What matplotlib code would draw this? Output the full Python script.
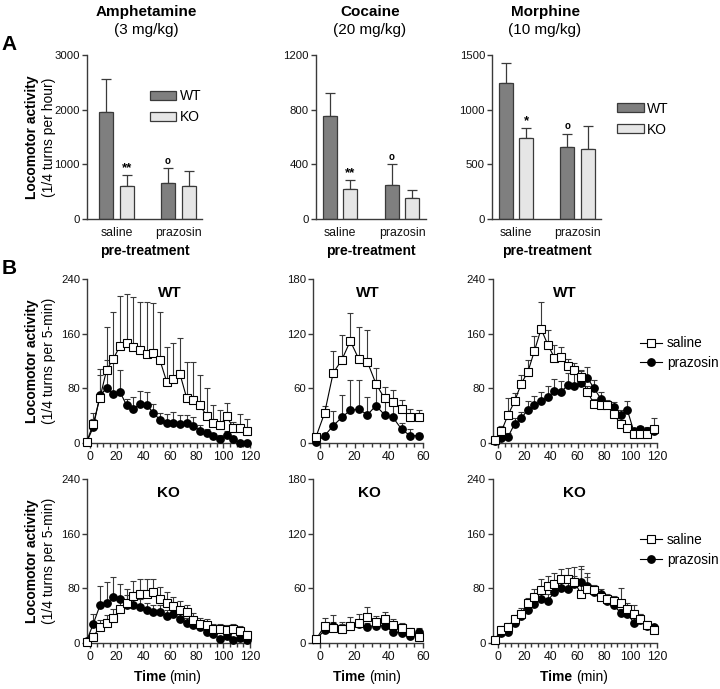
import numpy as np
import matplotlib
matplotlib.use('Agg')
import matplotlib.pyplot as plt
from matplotlib.patches import Patch
from matplotlib.lines import Line2D
from matplotlib.ticker import MultipleLocator

plt.rcParams['font.family'] = ['Liberation Sans', 'DejaVu Sans']

# ---------------- data ----------------
drugs = ["Amphetamine", "Cocaine", "Morphine"]
doses = ["(3 mg/kg)", "(20 mg/kg)", "(10 mg/kg)"]
pretreat = ["saline", "prazosin"]

amph_wt_mean = [1960, 655]
amph_wt_sem = [600, 270]
amph_ko_mean = [610, 605]
amph_ko_sem = [190, 265]

coc_wt_mean = [750, 247]
coc_wt_sem = [170, 153]
coc_ko_mean = [219, 154]
coc_ko_sem = [66, 58]

mor_wt_mean = [1244, 658]
mor_wt_sem = [180, 122]
mor_ko_mean = [738, 643]
mor_ko_sem = [91, 210]

time_120 = [-2.5, 2.5, 7.5, 12.5, 17.5, 22.5, 27.5, 32.5, 37.5, 42.5, 47.5, 52.5,
            57.5, 62.5, 67.5, 72.5, 77.5, 82.5, 87.5, 92.5, 97.5, 102.5, 107.5,
            112.5, 117.5]
time_60 = [-2.5, 2.5, 7.5, 12.5, 17.5, 22.5, 27.5, 32.5, 37.5, 42.5, 47.5, 52.5, 57.5]

# Amphetamine WT
amph_wt_sal = [1, 28, 66, 107, 123, 142, 147, 141, 136, 130, 132, 121, 90, 93, 101,
               66, 63, 55, 40, 29, 26, 39, 22, 22, 18]
amph_wt_sal_sem = [0, 16, 42, 63, 68, 73, 71, 72, 71, 77, 73, 70, 50, 54, 52, 53,
                   56, 45, 41, 26, 23, 20, 9, 21, 17]
amph_wt_pz = [1, 23, 70, 80, 71, 75, 55, 50, 57, 56, 44, 34, 29, 29, 28, 29, 25, 18,
              14, 10, 6, 11, 6, 0, 0]
amph_wt_pz_sem = [0, 12, 30, 42, 48, 32, 10, 18, 19, 19, 13, 10, 14, 16, 13, 12, 13,
                  8, 6, 5, 5, 6, 4, 3, 2]
# Amphetamine KO
amph_ko_sal = [2, 9, 24, 29, 36, 50, 59, 69, 71, 72, 74, 64, 58, 54, 49, 45, 34, 28,
               27, 20, 20, 19, 21, 18, 11]
amph_ko_sal_sem = [1, 6, 10, 12, 14, 18, 20, 22, 22, 22, 20, 18, 16, 14, 12, 10, 10,
                   8, 8, 8, 8, 8, 7, 7, 6]
amph_ko_pz = [3, 28, 55, 58, 67, 64, 56, 55, 53, 48, 45, 45, 39, 42, 35, 30, 26, 23,
              16, 13, 6, 10, 5, 7, 4]
amph_ko_pz_sem = [1, 15, 29, 31, 30, 22, 14, 12, 12, 10, 10, 10, 9, 9, 8, 7, 7, 6, 5,
                  4, 3, 3, 3, 3, 2]
# Cocaine WT
coc_wt_sal = [7, 33, 77, 91, 112, 92, 89, 65, 49, 45, 37, 28, 28]
coc_wt_sal_sem = [1, 8, 24, 28, 31, 35, 35, 17, 13, 13, 10, 9, 8]
coc_wt_pz = [1, 8, 19, 28, 36, 37, 31, 41, 31, 28, 15, 8, 8]
coc_wt_pz_sem = [0, 3, 16, 25, 33, 32, 20, 28, 20, 16, 7, 7, 3]
# Cocaine KO
coc_ko_sal = [4, 19, 17, 15, 19, 22, 29, 23, 26, 20, 16, 12, 7]
coc_ko_sal_sem = [1, 8, 6, 8, 9, 10, 10, 7, 8, 6, 6, 5, 4]
coc_ko_pz = [4, 14, 19, 15, 19, 21, 18, 19, 19, 12, 11, 8, 12]
coc_ko_pz_sem = [1, 5, 12, 6, 4, 4, 4, 5, 4, 6, 3, 3, 4]
# Morphine WT
mor_wt_sal = [5, 17, 41, 61, 87, 104, 135, 167, 144, 125, 126, 113, 107, 97, 75, 57,
              56, 56, 42, 28, 22, 13, 13, 13, 21]
mor_wt_sal_sem = [1, 8, 25, 12, 12, 18, 21, 39, 21, 18, 15, 10, 10, 10, 8, 7, 6, 6,
                  5, 5, 4, 4, 4, 4, 15]
mor_wt_pz = [3, 8, 9, 28, 36, 49, 55, 61, 67, 76, 74, 85, 84, 88, 95, 80, 65, 55,
             52, 41, 49, 17, 20, 18, 18]
mor_wt_pz_sem = [1, 4, 6, 8, 10, 12, 14, 14, 16, 17, 17, 18, 20, 18, 16, 12, 10, 8,
                 8, 8, 12, 5, 5, 5, 5]
# Morphine KO
mor_ko_sal = [5, 19, 24, 35, 43, 58, 67, 77, 83, 87, 93, 93, 90, 72, 79, 77, 67, 64,
              61, 59, 50, 43, 35, 26, 19]
mor_ko_sal_sem = [1, 6, 6, 6, 8, 8, 12, 16, 15, 15, 15, 17, 21, 37, 23, 8, 8, 8, 8,
                  22, 8, 13, 8, 6, 5]
mor_ko_pz = [5, 15, 16, 30, 40, 48, 57, 65, 62, 74, 80, 79, 86, 89, 84, 74, 71, 61,
             55, 44, 43, 30, 34, 25, 23]
mor_ko_pz_sem = [1, 4, 4, 5, 6, 7, 8, 10, 10, 10, 10, 10, 12, 23, 12, 10, 8, 8, 8, 6,
                 6, 6, 8, 6, 4]

# ---------------- layout ----------------
W, H = 720, 689
fig = plt.figure(figsize=(7.2, 6.89), dpi=100)
SP = '#3a3a3a'
DARK = '#7f7f7f'
LIGHT = '#e6e6e6'
TICK_FS = 8.2


def add_ax(x0, y0, x1, y1):
    return fig.add_axes([x0 / W, 1 - y1 / H, (x1 - x0) / W, (y1 - y0) / H])


def ftext(x, y, s, **kw):
    fig.text(x / W, 1 - y / H, s, **kw)


def style(ax):
    for s in ['top', 'right']:
        ax.spines[s].set_visible(False)
    for s in ['left', 'bottom']:
        ax.spines[s].set_color(SP)
        ax.spines[s].set_linewidth(1.0)
    ax.tick_params(colors=SP, labelcolor='#111111', labelsize=TICK_FS, length=3.5,
                   width=1.0, pad=1.5)


def bar_panel(ax, wt_m, wt_s, ko_m, ko_s, ymax, ystep, xlim, ko_mark):
    x = np.arange(len(pretreat))
    off, w = 0.169, 0.226
    z = np.zeros(len(pretreat))
    ax.errorbar(x - off, wt_m, yerr=[z, wt_s], fmt='none', ecolor=SP,
                elinewidth=0.9, capsize=3.5, capthick=0.9, zorder=1)
    ax.errorbar(x + off, ko_m, yerr=[z, ko_s], fmt='none', ecolor=SP,
                elinewidth=0.9, capsize=3.5, capthick=0.9, zorder=1)
    ax.bar(x - off, wt_m, w, color=DARK, edgecolor=SP, linewidth=0.9, zorder=2)
    ax.bar(x + off, ko_m, w, color=LIGHT, edgecolor=SP, linewidth=0.9, zorder=2)
    ax.set_ylim(0, ymax)
    ax.set_xlim(*xlim)
    ax.yaxis.set_major_locator(MultipleLocator(ystep))
    style(ax)
    ax.set_xticks(x)
    ax.set_xticklabels(pretreat, fontsize=8.8)
    ax.tick_params(axis='x', length=0, pad=6)
    ax.set_xlabel('pre-treatment', fontsize=10, fontweight='bold', labelpad=3)
    # significance marks
    ax.annotate(ko_mark, (x[0] + off, ko_m[0] + ko_s[0]), xytext=(0, 0.5),
                textcoords='offset points', ha='center', va='bottom',
                fontsize=9.5, fontweight='bold')
    ax.annotate('o', (x[1] - off, wt_m[1] + wt_s[1]), xytext=(0, 2),
                textcoords='offset points', ha='center', va='bottom',
                fontsize=7, fontweight='bold')


def line_panel(ax, t, sal, sal_s, pz, pz_s, ymax, ystep, xlim, label):
    z = np.zeros(len(t))
    ax.errorbar(t, sal, yerr=[z, sal_s], fmt='none', ecolor=SP, elinewidth=0.8,
                capsize=2.2, capthick=0.8, zorder=2, clip_on=False)
    ax.errorbar(t, pz, yerr=[z, pz_s], fmt='none', ecolor=SP, elinewidth=0.8,
                capsize=2.2, capthick=0.8, zorder=2, clip_on=False)
    ax.plot(t, pz, '-o', color='black', mfc='black', mec='black', ms=5.3, lw=0.8,
            zorder=3, clip_on=False)
    ax.plot(t, sal, '-s', color='black', mfc='white', mec='black', ms=5.3, mew=0.8,
            lw=0.8, zorder=4, clip_on=False)
    ax.set_ylim(0, ymax)
    ax.set_xlim(*xlim)
    ax.yaxis.set_major_locator(MultipleLocator(ystep))
    ax.xaxis.set_major_locator(MultipleLocator(20))
    ax.xaxis.set_minor_locator(MultipleLocator(5))
    style(ax)
    ax.tick_params(axis='x', which='minor', length=3, width=1.0, colors=SP)
    ax.tick_params(axis='x', which='major', pad=2.5, labelsize=8.8)


# ---------- row A ----------
ax_a1 = add_ax(87, 55, 202, 219)
bar_panel(ax_a1, amph_wt_mean, amph_wt_sem, amph_ko_mean, amph_ko_sem, 3000, 1000,
          (-0.476, 1.379), '**')
ax_a2 = add_ax(316, 55, 426, 219)
bar_panel(ax_a2, coc_wt_mean, coc_wt_sem, coc_ko_mean, coc_ko_sem, 1200, 400,
          (-0.387, 1.387), '**')
ax_a3 = add_ax(492, 55, 601, 219)
bar_panel(ax_a3, mor_wt_mean, mor_wt_sem, mor_ko_mean, mor_ko_sem, 1500, 500,
          (-0.39, 1.382), '*')

bar_handles = [Patch(facecolor=DARK, edgecolor=SP, linewidth=0.9),
               Patch(facecolor=LIGHT, edgecolor=SP, linewidth=0.9)]
for ax, anchor in [(ax_a1, (0.545, 0.79)), (ax_a3, (1.15, 0.715))]:
    ax.legend(bar_handles, ['WT', 'KO'], loc='upper left', bbox_to_anchor=anchor,
              frameon=False, fontsize=10, handlelength=1.9, handleheight=0.6,
              handletextpad=0.25, labelspacing=0.5, borderpad=0, borderaxespad=0)

title_x = [146, 370, 545]
for cx, d, dose in zip(title_x, drugs, doses):
    ftext(cx, 12, d, ha='center', va='center', fontsize=11, fontweight='bold')
    ftext(cx, 30, dose, ha='center', va='center', fontsize=11)

ftext(9, 45, 'A', ha='center', va='center', fontsize=15, fontweight='bold')
ftext(9, 268, 'B', ha='center', va='center', fontsize=15, fontweight='bold')

ftext(32, 137, 'Locomotor activity', rotation=90, ha='center', va='center',
      fontsize=10, fontweight='bold')
ftext(49, 137, '(1/4 turns per hour)', rotation=90, ha='center', va='center',
      fontsize=10)

# ---------- row B ----------
cols = [(87, 250, (-2.2, 120)), (313, 423, (-4.3, 60)), (492.5, 657, (-4.2, 120))]
rows = [(279, 443, 'WT'), (479, 643, 'KO')]

panel_data = {
    ('WT', 0): (time_120, amph_wt_sal, amph_wt_sal_sem, amph_wt_pz, amph_wt_pz_sem, 240, 80),
    ('WT', 1): (time_60, coc_wt_sal, coc_wt_sal_sem, coc_wt_pz, coc_wt_pz_sem, 180, 60),
    ('WT', 2): (time_120, mor_wt_sal, mor_wt_sal_sem, mor_wt_pz, mor_wt_pz_sem, 240, 80),
    ('KO', 0): (time_120, amph_ko_sal, amph_ko_sal_sem, amph_ko_pz, amph_ko_pz_sem, 240, 80),
    ('KO', 1): (time_60, coc_ko_sal, coc_ko_sal_sem, coc_ko_pz, coc_ko_pz_sem, 180, 60),
    ('KO', 2): (time_120, mor_ko_sal, mor_ko_sal_sem, mor_ko_pz, mor_ko_pz_sem, 240, 80),
}
label_xfrac = {('WT', 0): 0.51, ('WT', 1): 0.5, ('WT', 2): 0.44,
               ('KO', 0): 0.5, ('KO', 1): 0.51, ('KO', 2): 0.5}

line_handles = [Line2D([], [], color='black', lw=0.8, marker='s', mfc='white',
                       mec='black', ms=5.3, mew=0.8),
                Line2D([], [], color='black', lw=0.8, marker='o', mfc='black',
                       mec='black', ms=5.3)]

for (y0, y1, grp) in rows:
    for ci, (x0, x1, xl) in enumerate(cols):
        ax = add_ax(x0, y0, x1, y1)
        t, s, ss, p, ps, ymax, ystep = panel_data[(grp, ci)]
        line_panel(ax, t, s, ss, p, ps, ymax, ystep, xl, grp)
        ax.text(label_xfrac[(grp, ci)], 1 - 14 / 164, grp, transform=ax.transAxes,
                ha='center', va='center', fontsize=11, fontweight='bold')
        if ci == 2:
            top = 0.65 if grp == 'WT' else 0.67
            ax.legend(line_handles, ['saline', 'prazosin'], loc='upper left',
                      bbox_to_anchor=(0.895, top), frameon=False, fontsize=9.8,
                      handlelength=1.6, handletextpad=0.4, labelspacing=0.4,
                      borderpad=0, borderaxespad=0)
        if grp == 'KO':
            cx = (x0 + x1) / 2
            ftext(cx + 1, 677, 'Time ', ha='right', va='center', fontsize=10,
                  fontweight='bold')
            ftext(cx + 1, 677, '(min)', ha='left', va='center', fontsize=10)
    cy = (y0 + y1) / 2
    ftext(32, cy, 'Locomotor activity', rotation=90, ha='center', va='center',
          fontsize=10, fontweight='bold')
    ftext(49, cy, '(1/4 turns per 5-min)', rotation=90, ha='center', va='center',
          fontsize=10)

fig.savefig('out.png', dpi=100)
